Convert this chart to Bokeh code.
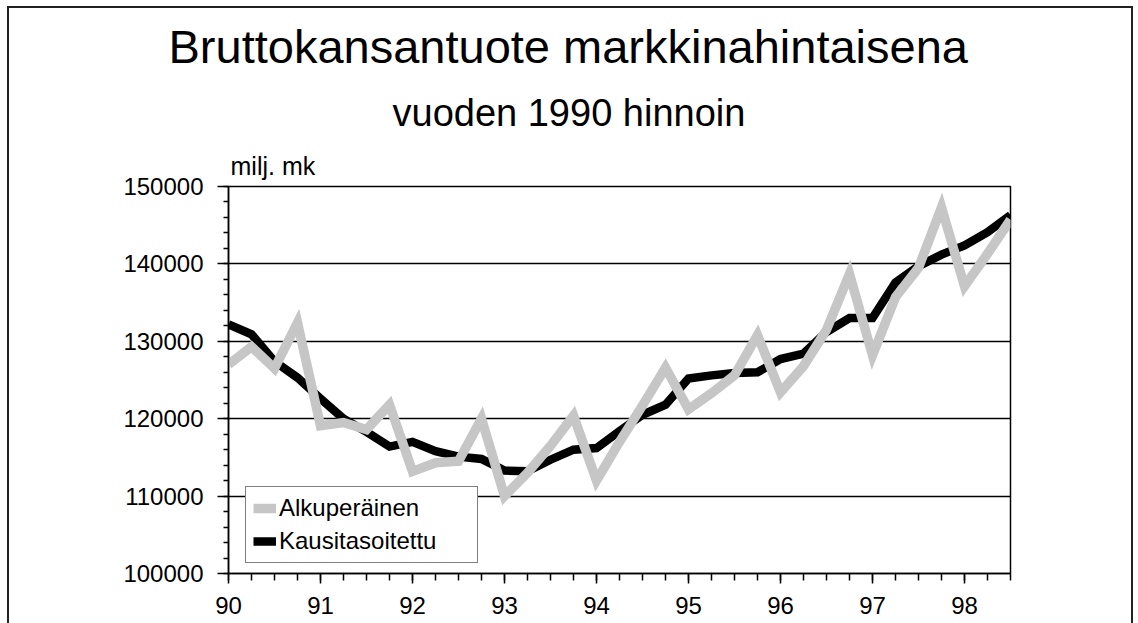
from bokeh.plotting import figure
from bokeh.models import FixedTicker, Legend, LegendItem, Range1d, Title, InlineStyleSheet
from bokeh.embed import file_html
from bokeh.resources import INLINE

# Quarterly data 1990Q1 .. 1998Q3 (milj. mk, 1990 prices)
quarters = list(range(35))
year_labels = ["90", "91", "92", "93", "94", "95", "96", "97", "98"]
year_positions = [0, 4, 8, 12, 16, 20, 24, 28, 32]

alkuperainen = [
    127000, 129300, 126500, 132400,
    119100, 119500, 118600, 121800,
    113200, 114300, 114500, 120000,
    110000, 113000, 116500, 120400,
    112000, 117000, 121700, 126600,
    121200, 123300, 125600, 130800,
    123400, 126800, 131500, 138700,
    128200, 135700, 139500, 147300,
    137100, 141300, 145700,
]
kausitasoitettu = [
    132200, 130900, 127400, 125300,
    122600, 120000, 118300, 116400,
    117000, 115800, 115100, 114800,
    113300, 113200, 114700, 116000,
    116200, 118400, 120500, 121800,
    125200, 125600, 125900, 126000,
    127700, 128400, 131200, 133000,
    133000, 137600, 139700, 141200,
    142400, 144100, 146300,
]
y_ticks = [100000, 110000, 120000, 130000, 140000, 150000]
y_minor = list(range(100000, 150001, 2000))

FONT = "Liberation Sans"

p = figure(frame_width=782, frame_height=387,
           min_border_left=228, min_border_right=128,
           min_border_top=186, min_border_bottom=50,
           x_range=Range1d(0, 34), y_range=Range1d(100000, 150000),
           title=None, output_backend="svg", toolbar_location=None)
css = (":host { position: relative; } "
       ":host::after { content: ''; position: absolute; left: 7px; top: 6px; "
       "right: 5px; bottom: 0px; border: 2px solid #222; border-bottom: none; "
       "pointer-events: none; }")
p.stylesheets = [InlineStyleSheet(css=css)]
p.background_fill_color = "white"
p.border_fill_color = "white"
p.outline_line_color = "black"
p.outline_line_width = 1.5

# axes
p.xaxis.ticker = FixedTicker(ticks=year_positions, minor_ticks=quarters)
p.xaxis.major_label_overrides = {pos: lab for pos, lab in zip(year_positions, year_labels)}
p.yaxis.ticker = FixedTicker(ticks=y_ticks, minor_ticks=y_minor)
p.yaxis.major_label_overrides = {t: str(t) for t in y_ticks}

for ax in (p.xaxis[0], p.yaxis[0]):
    ax.axis_line_color = "black"
    ax.axis_line_width = 1.5
    ax.major_tick_line_color = "black"
    ax.major_tick_line_width = 1.5
    ax.minor_tick_line_color = "black"
    ax.minor_tick_line_width = 1.5
    ax.major_tick_in = 0
    ax.minor_tick_in = 0
    ax.major_label_text_font = FONT
    ax.major_label_text_font_size = "24px"
    ax.major_label_text_color = "black"

p.xaxis.major_tick_out = 10
p.xaxis.minor_tick_out = 7
p.xaxis.major_label_standoff = 13
p.yaxis.major_tick_out = 11
p.yaxis.minor_tick_out = 5
p.yaxis.major_label_standoff = 14

p.xgrid.visible = False
p.ygrid.ticker = FixedTicker(ticks=y_ticks)
p.ygrid.grid_line_color = "black"
p.ygrid.grid_line_width = 1.5

# series
r_black = p.line(quarters, kausitasoitettu, line_width=8.5, line_color="black",
                 line_join="miter")
r_grey = p.line(quarters, alkuperainen, line_width=9.5, line_color="#c6c6c6",
                line_join="miter")

legend = Legend(items=[LegendItem(label="Alkuperäinen", renderers=[r_grey]),
                       LegendItem(label="Kausitasoitettu", renderers=[r_black])],
                location=(17, 10), margin=0, padding=7, spacing=5,
                label_standoff=3, glyph_width=23, glyph_height=26,
                label_width=191, label_height=26,
                label_text_font=FONT, label_text_font_size="24px",
                label_text_color="black",
                border_line_color="black", border_line_width=1.5,
                background_fill_color="white", background_fill_alpha=1.0)
p.add_layout(legend)

# titles (first added = closest to the plot frame)
p.add_layout(Title(text="milj. mk", align="left", offset=2, standoff=13,
                   text_font=FONT, text_font_size="25px",
                   text_font_style="normal", text_color="black"), "above")
p.add_layout(Title(text="vuoden 1990 hinnoin", align="left", offset=164,
                   standoff=20, text_font=FONT, text_font_size="38px",
                   text_font_style="normal", text_color="black"), "above")
p.add_layout(Title(text="Bruttokansantuote markkinahintaisena", align="left",
                   offset=-60, standoff=14, text_font=FONT,
                   text_font_size="47px", text_font_style="normal",
                   text_color="black"), "above")

open("out.html", "w").write(file_html(p, INLINE))
